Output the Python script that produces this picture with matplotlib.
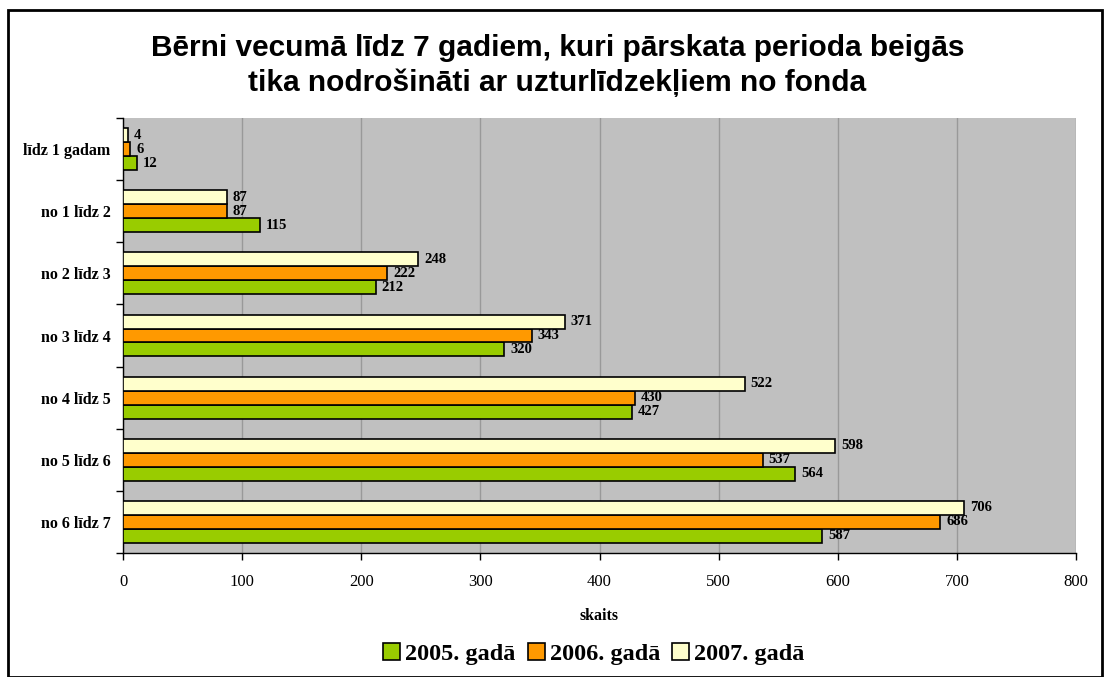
import matplotlib.pyplot as plt
import matplotlib.patches as mpatches
import numpy as np

# kategorijas (no augšas uz leju)
vecums = ['līdz 1 gadam', 'no 1 līdz 2', 'no 2 līdz 3', 'no 3 līdz 4',
          'no 4 līdz 5', 'no 5 līdz 6', 'no 6 līdz 7']
gads_2005 = [12, 115, 212, 320, 427, 564, 587]
gads_2006 = [6, 87, 222, 343, 430, 537, 686]
gads_2007 = [4, 87, 248, 371, 522, 598, 706]
serijas = ['2005. gadā', '2006. gadā', '2007. gadā']
krasas = ['#99CC00', '#FF9900', '#FFFFCC']

fig = plt.figure(figsize=(11.04, 6.77), dpi=100)
ax = fig.add_axes([123/1104, 1-553/677, (1076-123)/1104, (553-118)/677])
ax.set_facecolor('#C0C0C0')

y = np.arange(len(vecums))
h = 0.225
# 2005 apakšā, 2007 augšā katrā grupā
dati = [gads_2005, gads_2006, gads_2007]
nobide = [h, 0, -h]
for d, off, c, lab in zip(dati, nobide, krasas, serijas):
    bars = ax.barh(y + off, d, height=h, color=c, edgecolor='black', linewidth=1.2, label=lab, zorder=3)
    for b, v in zip(bars, d):
        ax.text(b.get_width() + 5, b.get_y() + b.get_height()/2, str(v), ha='left', va='center',
                fontsize=10.5, fontweight='bold', family='Liberation Serif', zorder=4)

ax.set_ylim(len(vecums) - 0.5, -0.5)
ax.set_xlim(0, 800)
ax.set_xticks(range(0, 801, 100))
ax.set_yticks(y)
ax.set_yticklabels(vecums, fontsize=11.5, fontweight='bold', family='Liberation Serif')
ax.set_yticks(np.arange(-0.5, len(vecums), 1), minor=True)
ax.tick_params(axis='y', which='major', length=0, pad=9)
ax.tick_params(axis='y', which='minor', length=5, width=1)
ax.tick_params(axis='x', length=5, width=1, pad=10)
for t in ax.get_xticklabels():
    t.set_fontsize(12)
    t.set_family('Liberation Serif')
ax.grid(axis='x', color='#999999', linewidth=1, zorder=0)
for s in ['top', 'right']:
    ax.spines[s].set_visible(False)
ax.spines['left'].set_linewidth(1)
ax.spines['bottom'].set_linewidth(1)
ax.set_xlabel('skaits', fontsize=11.5, fontweight='bold', family='Liberation Serif', labelpad=13)

fig.text(0.505, 1-48/677, 'Bērni vecumā līdz 7 gadiem, kuri pārskata perioda beigās',
         ha='center', va='center', fontsize=21.5, fontweight='bold', family='Liberation Sans')
fig.text(0.505, 1-83/677, 'tika nodrošināti ar uzturlīdzekļiem no fonda',
         ha='center', va='center', fontsize=21.5, fontweight='bold', family='Liberation Sans')

fig.legend(loc='center', bbox_to_anchor=(594/1104, 1-654/677), ncol=3, frameon=False,
           prop={'family': 'Liberation Serif', 'weight': 'bold', 'size': 17.5},
           handlelength=0.7, handleheight=0.7, handletextpad=0.2, columnspacing=0.5)

fig.patches.append(mpatches.Rectangle((8/1104, 0), (1102-8)/1104, 1-10/677, transform=fig.transFigure,
                                      fill=False, edgecolor='black', linewidth=2))

fig.savefig('out.png', dpi=100)
